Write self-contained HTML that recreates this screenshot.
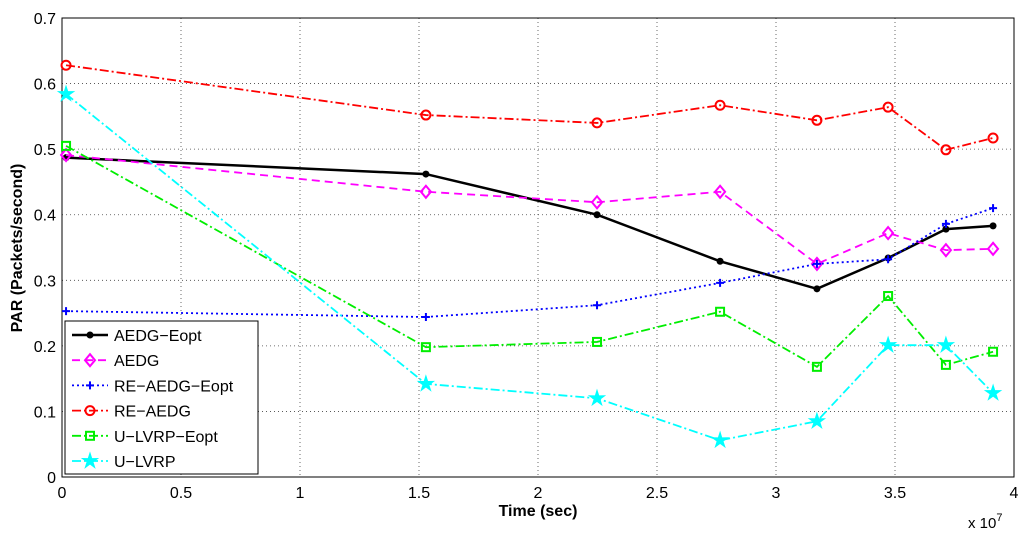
<!DOCTYPE html>
<html><head><meta charset="utf-8"><style>
html,body{margin:0;padding:0;background:#fff;}
svg{display:block;font-family:"Liberation Sans",sans-serif;}
</style></head><body>
<svg id="chart" width="1024" height="538">
<g id="grid"></g>
<rect x="62" y="18" width="952" height="459" fill="none" stroke="#000" stroke-width="1"/>
<g id="axes"></g>
<g id="series"></g>
<text x="538" y="516" text-anchor="middle" font-size="16" font-weight="bold">Time (sec)</text>
<text transform="translate(22,248) rotate(-90)" text-anchor="middle" font-size="16" font-weight="bold">PAR (Packets/second)</text>
<text x="968" y="528" font-size="15">x 10<tspan dy="-7" font-size="11">7</tspan></text>
<g id="legend"></g>
</svg>
<script>
const xVals=[0.017,1.529,2.248,2.765,3.172,3.471,3.714,3.912];
const xTicks=[0,0.5,1,1.5,2,2.5,3,3.5,4];
const yTicks=[0,0.1,0.2,0.3,0.4,0.5,0.6,0.7];
const seriesNames=["AEDG-Eopt","AEDG","RE-AEDG-Eopt","RE-AEDG","U-LVRP-Eopt","U-LVRP"];
const aedgEopt=[0.487,0.462,0.400,0.329,0.287,0.334,0.378,0.383];
const aedg=[0.491,0.435,0.419,0.435,0.325,0.372,0.346,0.348];
const reAedgEopt=[0.253,0.244,0.262,0.296,0.325,0.332,0.386,0.410];
const reAedg=[0.628,0.552,0.540,0.567,0.544,0.564,0.499,0.517];
const ulvrpEopt=[0.505,0.198,0.206,0.252,0.168,0.276,0.171,0.191];
const ulvrp=[0.584,0.142,0.120,0.056,0.085,0.201,0.201,0.128];
const NS="http://www.w3.org/2000/svg";
const X=v=>62+v*238, Y=v=>477-v*655.7;
function mk(t,a,p){const e=document.createElementNS(NS,t);for(const k in a)e.setAttribute(k,a[k]);p.appendChild(e);return e;}
const grid=document.getElementById('grid'),axes=document.getElementById('axes');
xTicks.forEach(t=>{const x=X(t);
 if(t>0&&t<4){const l=mk('line',{x1:x,x2:x,y1:18,y2:477,stroke:'#444','stroke-width':0.8,'stroke-dasharray':'1,3'},grid);
 }
 const tx=mk('text',{x:x,y:498,'text-anchor':'middle','font-size':16},axes);tx.textContent=String(t);
 });
yTicks.forEach(t=>{const y=Y(t);
 if(t>0&&t<0.7){const l=mk('line',{x1:62,x2:1014,y1:y,y2:y,stroke:'#444','stroke-width':0.8,'stroke-dasharray':'1,3'},grid);
 }
 const tx=mk('text',{x:56,y:y+6,'text-anchor':'end','font-size':16},axes);tx.textContent=String(t);
 });
const styles=[
 {d:aedgEopt,c:'#000',dash:'',m:'dot',w:2.5},
 {d:aedg,c:'#ff00ff',dash:'8,5',m:'diamond',w:1.8},
 {d:reAedgEopt,c:'#0000ff',dash:'2,3',m:'plus',w:1.8},
 {d:reAedg,c:'#ff0000',dash:'9,3,2,3',m:'circle',w:1.8},
 {d:ulvrpEopt,c:'#00ee00',dash:'9,3,2,3',m:'square',w:1.8},
 {d:ulvrp,c:'#00ffff',dash:'9,3,2,3',m:'star',w:1.8}];
function marker(m,x,y,c,p){
 let e;
 if(m==='dot')e=mk('circle',{cx:x,cy:y,r:3.5,fill:c},p);
 else if(m==='diamond')e=mk('polygon',{points:`${x},${y-6} ${x+5},${y} ${x},${y+6} ${x-5},${y}`,fill:'none',stroke:c,'stroke-width':2},p);
 else if(m==='plus')e=mk('path',{d:`M${x-4},${y}H${x+4}M${x},${y-4}V${y+4}`,stroke:c,'stroke-width':2},p);
 else if(m==='circle')e=mk('circle',{cx:x,cy:y,r:4.5,fill:'none',stroke:c,'stroke-width':2},p);
 else if(m==='square')e=mk('rect',{x:x-4,y:y-4,width:8,height:8,fill:'none',stroke:c,'stroke-width':2},p);
 else{let pts=[];for(let i=0;i<10;i++){const r=i%2?3:8,a=-Math.PI/2+i*Math.PI/5;pts.push((x+r*Math.cos(a)).toFixed(1)+','+(y+r*Math.sin(a)).toFixed(1));}
  e=mk('polygon',{points:pts.join(' '),fill:c,stroke:c,'stroke-width':1},p);}
 }
const sg=document.getElementById('series');
styles.forEach((s,i)=>{const g=mk('g',{},sg);
 
 const pl=mk('polyline',{points:s.d.map((v,j)=>X(xVals[j])+','+Y(v)).join(' '),fill:'none',stroke:s.c,'stroke-width':s.w,'stroke-dasharray':s.dash},g);
 
 s.d.forEach((v,j)=>marker(s.m,X(xVals[j]),Y(v),s.c,g));});
const lg=document.getElementById('legend');
const lb=mk('rect',{x:65,y:321,width:193,height:153,fill:'#fff',stroke:'#000','stroke-width':1},lg);

styles.forEach((s,i)=>{const y=335+i*25.2;const g=mk('g',{},lg);
 
 mk('line',{x1:72,x2:108,y1:y,y2:y,stroke:s.c,'stroke-width':s.w,'stroke-dasharray':s.dash},g);
 marker(s.m,90,y,s.c,g);
 const t=mk('text',{x:114,y:y+6,'font-size':16},g);t.textContent=seriesNames[i].replace(/-/g,'\u2212');
 });
</script>
</body></html>
